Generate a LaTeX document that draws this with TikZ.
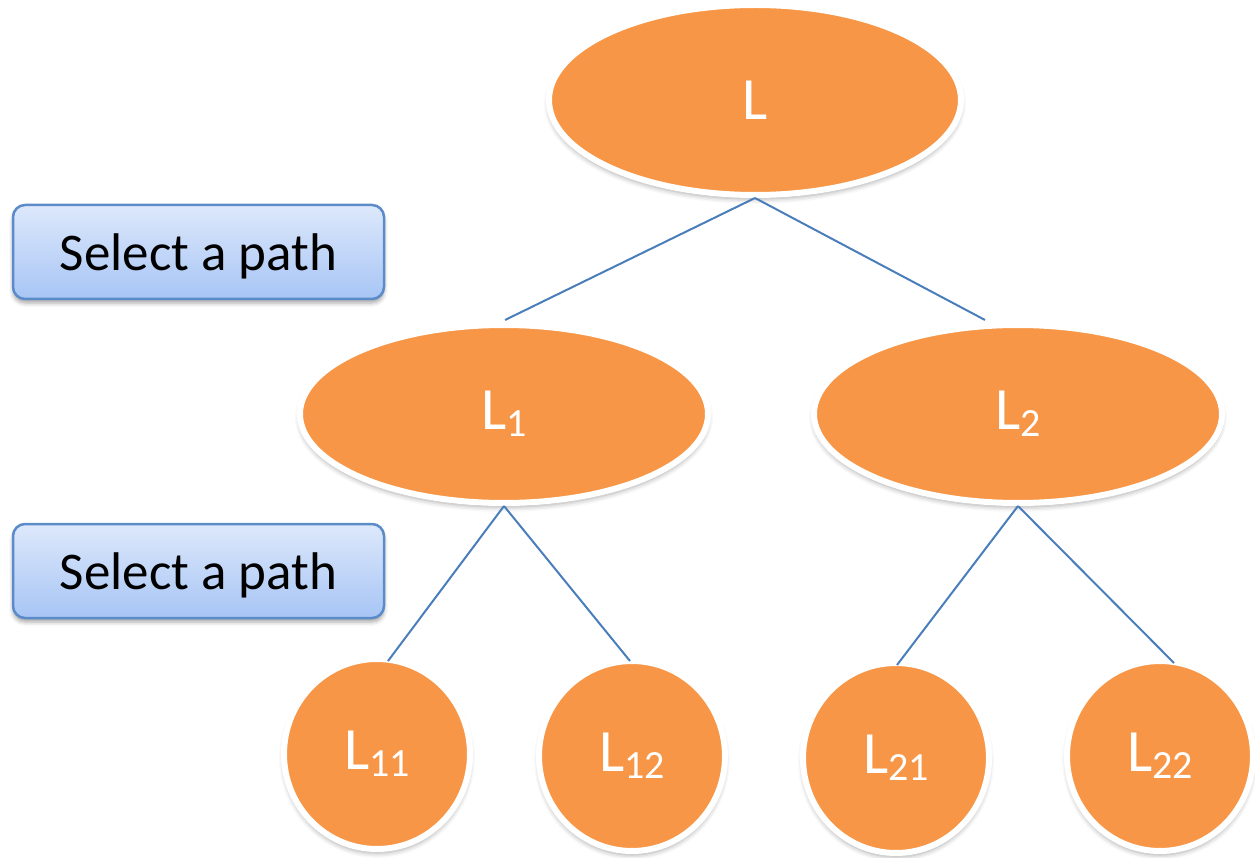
\documentclass[tikz,border=0pt]{standalone}
\usepackage{fontspec}
\setmainfont{Carlito}
\usetikzlibrary{shapes.geometric,shadows.blur}
\definecolor{nodeorange}{HTML}{F79646}
\definecolor{edgeblue}{HTML}{4A7EBB}
\definecolor{btntop}{HTML}{DDE8FB}
\definecolor{btnbot}{HTML}{A7C5F5}
\definecolor{btnedge}{HTML}{5B8CC9}
% label with a lowered, smaller index
\newcommand\sublbl[2]{#1\raisebox{-7pt}{\fontsize{40}{40}\selectfont #2}}
% text set a little lower inside its box, box size unchanged
\newcommand\lowertext[1]{\raisebox{-4pt}[\height][\depth]{#1}}
\begin{document}
\begin{tikzpicture}[x=1pt,y=-1pt,
  treenode/.style={ellipse, fill=nodeorange, draw=white, line width=6pt,
    inner sep=0pt, outer sep=3pt, text=white, font=\fontsize{60}{60}\selectfont,
    blur shadow={shadow xshift=0pt, shadow yshift=-4pt, shadow blur radius=5pt, shadow opacity=35}},
  bignode/.style={treenode, minimum width=412pt, minimum height=190pt},
  midnode/.style={treenode, minimum width=408pt, minimum height=178pt},
  leafnode/.style={treenode, minimum width=186pt, minimum height=190pt},
  selbox/.style={rectangle, rounded corners=12pt, draw=btnedge, line width=2.5pt,
    top color=btntop, bottom color=btnbot, minimum width=371pt, minimum height=94pt,
    inner sep=0pt, font=\fontsize{53}{64}\selectfont,
    blur shadow={shadow xshift=0pt, shadow yshift=-4pt, shadow blur radius=4pt, shadow opacity=35}},
  edge/.style={draw=edgeblue, line width=2pt}
]
\useasboundingbox (0,0) rectangle (1255,858);

% tree nodes
\node[bignode] (L) at (755,100) {L};
\node[midnode] (L1) at (504,414) {\sublbl{L}{1}};
\node[midnode] (L2) at (1018,414) {\sublbl{L}{2}};
\node[leafnode] (L11) at (377,754) {\sublbl{L}{11}};
\node[leafnode] (L12) at (632,756) {\sublbl{L}{12}};
\node[leafnode] (L21) at (896,758) {\sublbl{L}{21}};
\node[leafnode] (L22) at (1160,756) {\sublbl{L}{22}};

% path selection labels
\node[selbox] (sel1) at (198.5,252) {\lowertext{Select a path}};
\node[selbox] (sel2) at (198.5,571) {\lowertext{Select a path}};

% connectors
\draw[edge] (L.south) -- ([xshift=1pt,yshift=2pt]L1.north);
\draw[edge] (L.south) -- ([xshift=-33pt,yshift=2pt]L2.north);
\draw[edge] (L1.south) -- ([xshift=11pt,yshift=-5pt]L11.north);
\draw[edge] (L1.south) -- ([xshift=-2pt,yshift=-3pt]L12.north);
\draw[edge] (L2.south) -- ([xshift=1pt,yshift=-5pt]L21.north);
\draw[edge] (L2.south) -- ([xshift=14pt,yshift=-5pt]L22.north);
\end{tikzpicture}
\end{document}
